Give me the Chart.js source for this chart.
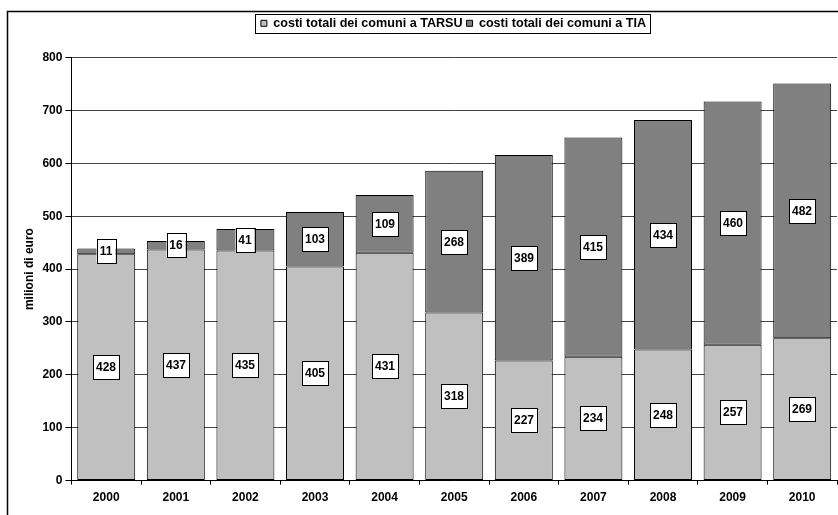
<!DOCTYPE html>
<html>
<head>
<meta charset="utf-8">
<script src="https://cdn.jsdelivr.net/npm/chart.js@4.4.0/dist/chart.umd.min.js"></script>
<style>
  html, body { margin: 0; padding: 0; background: #fff; }
  #wrap { width: 838px; height: 515px; position: relative; }
</style>
</head>
<body>
<div id="wrap"><canvas id="c"></canvas></div>
<script>
const years = ['2000','2001','2002','2003','2004','2005','2006','2007','2008','2009','2010'];
const tarsu = [428, 437, 435, 405, 431, 318, 227, 234, 248, 257, 269];
const tia = [11, 16, 41, 103, 109, 268, 389, 415, 434, 460, 482];
const seriesNames = ['costi totali dei comuni a TARSU', 'costi totali dei comuni a TIA'];
const yTitle = 'milioni di euro';

const FONT = '"Liberation Sans", Arial, sans-serif';

const frame = {
  id: 'frame',
  afterLayout(chart) {
    if (chart.legend) chart.legend.left += 48;
  },
  beforeDraw(chart) {
    const ctx = chart.ctx;
    ctx.save();
    ctx.strokeStyle = '#000';
    ctx.lineWidth = 1.5;
    ctx.strokeRect(7.5, 11.5, chart.width + 20, chart.height + 20);
    ctx.restore();
  },
  afterDraw(chart) {
    const lg = chart.legend;
    if (!lg || !lg.legendHitBoxes || !lg.legendHitBoxes.length) return;
    const boxes = lg.legendHitBoxes;
    let l = Infinity, r = -Infinity, t = Infinity, b = -Infinity;
    boxes.forEach(h => { l = Math.min(l, h.left); r = Math.max(r, h.left + h.width); t = Math.min(t, h.top); b = Math.max(b, h.top + h.height); });
    const cy = (t + b) / 2;
    const ctx = chart.ctx;
    ctx.save();
    ctx.strokeStyle = '#000';
    ctx.lineWidth = 1;
    ctx.strokeRect(Math.round(l - 6) + 0.5, Math.round(cy - 9.5) + 0.5, Math.round(r - l + 10), 19);
    ctx.restore();
  }
};

const legendSpace = {
  id: 'legendSpace',
  beforeInit(chart) {
    const fit = chart.legend.fit;
    chart.legend.fit = function () {
      fit.bind(chart.legend)();
      this.height += 18;
    };
  }
};

const valueLabels = {
  id: 'valueLabels',
  afterDatasetsDraw(chart) {
    const ctx = chart.ctx;
    ctx.save();
    ctx.font = 'bold 12px ' + FONT;
    ctx.textAlign = 'center';
    ctx.textBaseline = 'middle';
    chart.data.datasets.forEach((ds, di) => {
      const meta = chart.getDatasetMeta(di);
      meta.data.forEach((bar, i) => {
        const v = ds.data[i];
        const cx = Math.round(bar.x);
        const cy = Math.round((bar.y + bar.base) / 2);
        const txt = String(v);
        const w = Math.round(ctx.measureText(txt).width) + 6;
        const h = 24;
        ctx.fillStyle = '#fff';
        ctx.fillRect(cx - w / 2, cy - h / 2, w, h);
        ctx.strokeStyle = '#000';
        ctx.lineWidth = 1;
        ctx.strokeRect(Math.round(cx - w / 2) + 0.5, Math.round(cy - h / 2) + 0.5, w, h);
        ctx.fillStyle = '#000';
        ctx.fillText(txt, cx, cy + 1);
      });
    });
    ctx.restore();
  }
};

new Chart(document.getElementById('c'), {
  type: 'bar',
  data: {
    labels: years,
    datasets: [
      { label: seriesNames[0], data: tarsu, backgroundColor: '#c0c0c0', borderColor: '#000', borderWidth: 1, borderSkipped: false },
      { label: seriesNames[1], data: tia, backgroundColor: '#808080', borderColor: '#000', borderWidth: 1, borderSkipped: false }
    ]
  },
  options: {
    responsive: true,
    maintainAspectRatio: false,
    animation: false,
    layout: { padding: { left: 22, right: 1, top: 13, bottom: 4 } },
    datasets: { bar: { categoryPercentage: 1.0, barPercentage: 0.833 } },
    plugins: {
      legend: {
        position: 'top',
        labels: {
          boxWidth: 6, boxHeight: 6, padding: 4,
          color: '#000',
          font: { family: FONT, size: 12.6, weight: 'bold' },
          generateLabels(chart) {
            return chart.data.datasets.map((ds, i) => ({
              text: ds.label, fillStyle: ds.backgroundColor, strokeStyle: '#000', lineWidth: 1, datasetIndex: i, hidden: false
            }));
          }
        }
      },
      tooltip: { enabled: false }
    },
    scales: {
      x: {
        stacked: true,
        border: { color: '#000', width: 1 },
        grid: { drawOnChartArea: false, drawTicks: true, tickLength: 4, color: '#000', offset: true },
        ticks: { color: '#000', font: { family: FONT, size: 12, weight: 'bold' }, padding: 6, maxRotation: 0 }
      },
      y: {
        stacked: true,
        min: 0, max: 800,
        border: { color: '#000', width: 1 },
        grid: { color: '#444', tickColor: '#000', tickLength: 6, lineWidth: 1 },
        ticks: { stepSize: 100, color: '#000', font: { family: FONT, size: 12, weight: 'bold' }, padding: 3 },
        title: { display: true, text: yTitle, color: '#000', font: { family: FONT, size: 12, weight: 'bold' }, padding: { top: 0, bottom: 3 } }
      }
    }
  },
  plugins: [frame, legendSpace, valueLabels]
});
</script>
</body>
</html>
